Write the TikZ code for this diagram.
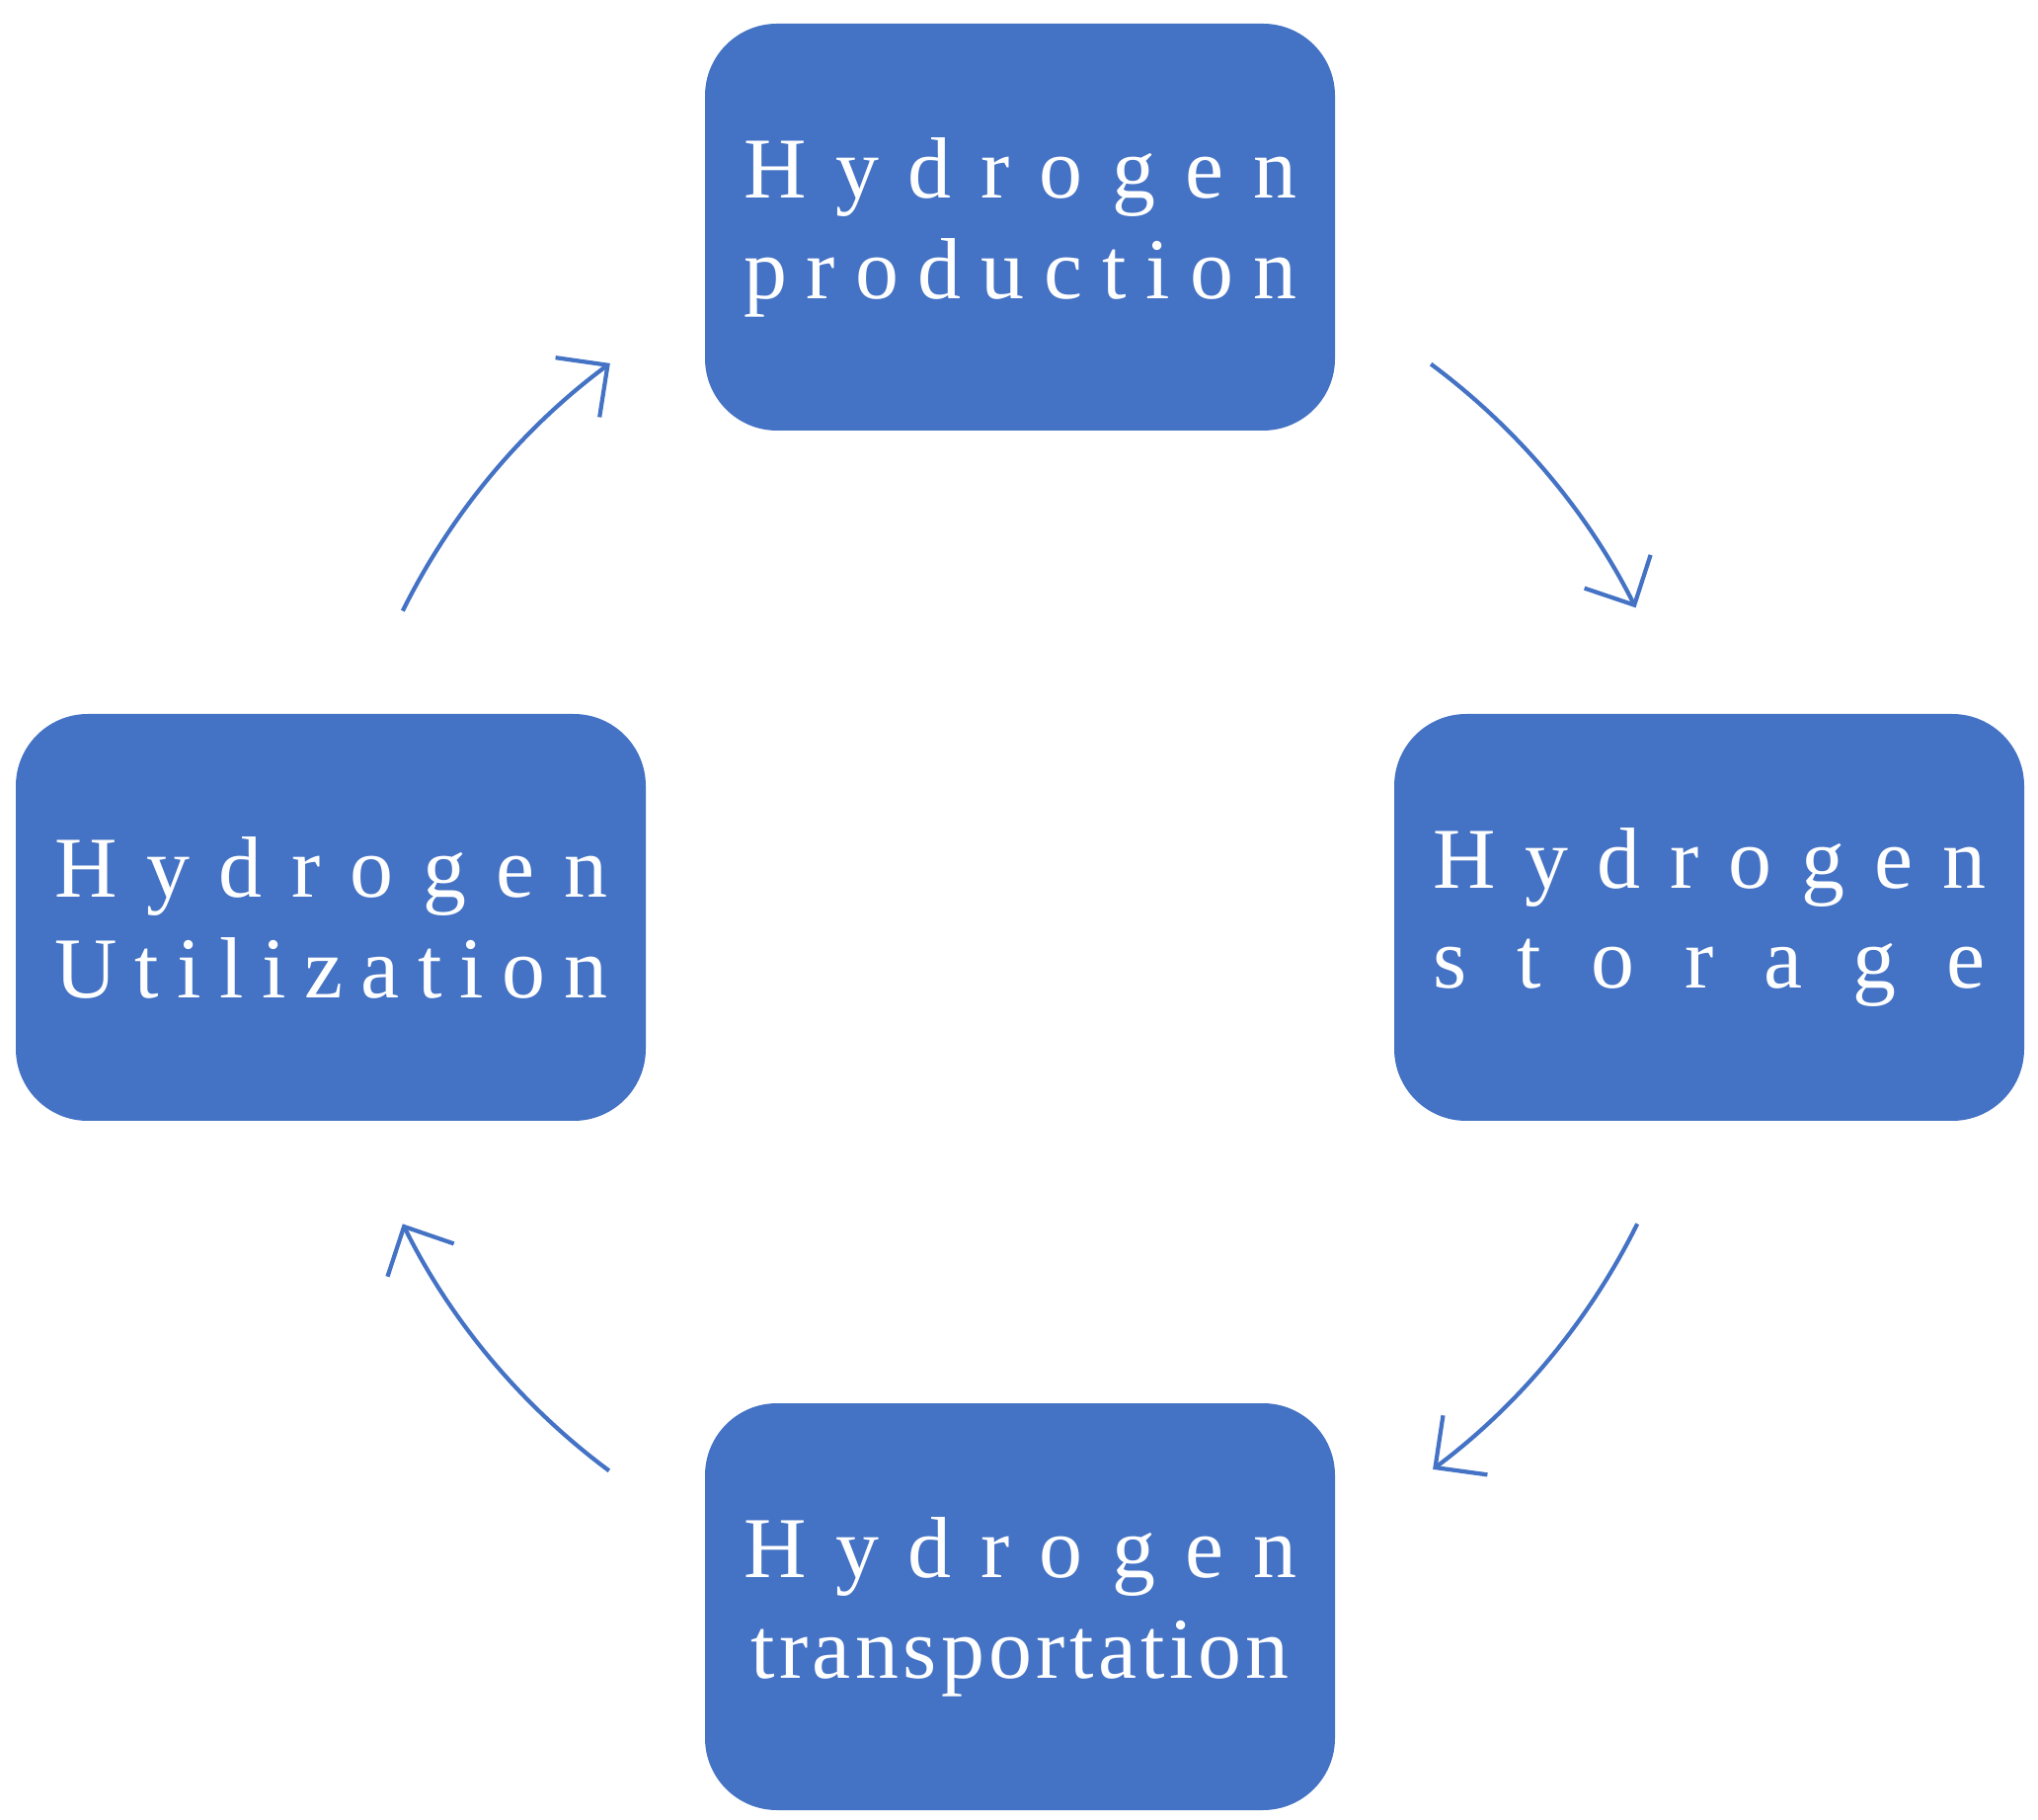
\documentclass[tikz,border=0pt]{standalone}
\usepackage{fontspec}
\setmainfont{Liberation Serif}
\usetikzlibrary{arrows.meta,positioning,calc}
\definecolor{stepblue}{HTML}{4472C4}
\newcommand{\spread}[1]{\makebox[5.6cm][s]{#1}}

\begin{document}
\begin{tikzpicture}
\tikzset{STEP/.style={fill=stepblue,rounded corners=0.73cm,minimum width=6.38cm,minimum height=4.12cm,text=white,font=\fontsize{25}{29}\selectfont,align=center}}
\tikzset{CYCLE/.style={draw=stepblue,line width=1.2pt,-{Straight Barb[length=3.8mm,width=7.5mm]}}}

\useasboundingbox (0,0) rectangle (20.64,-18.43);
\coordinate (centre) at (10.33,-9.29);

\node[STEP] (production) at (10.33,-2.30) {\spread{H\hfill y\hfill d\hfill r\hfill o\hfill g\hfill e\hfill n}\\\spread{p\hfill r\hfill o\hfill d\hfill u\hfill c\hfill t\hfill i\hfill o\hfill n}};
\node[STEP] (storage) at (17.31,-9.29) {\spread{H\hfill y\hfill d\hfill r\hfill o\hfill g\hfill e\hfill n}\\\spread{s\hfill t\hfill o\hfill r\hfill a\hfill g\hfill e}};
\node[STEP] (transport) at (10.33,-16.27) {\spread{H\hfill y\hfill d\hfill r\hfill o\hfill g\hfill e\hfill n}\\{\addfontfeature{LetterSpace=5}transportation}};
\node[STEP] (utilization) at (3.35,-9.29) {\spread{H\hfill y\hfill d\hfill r\hfill o\hfill g\hfill e\hfill n}\\\spread{U\hfill t\hfill i\hfill l\hfill i\hfill z\hfill a\hfill t\hfill i\hfill o\hfill n}};

\draw[CYCLE] ($(centre)+(53.4:6.98)$) arc (53.4:26.7:6.98);
\draw[CYCLE] ($(centre)+(-26.4:6.98)$) arc (-26.4:-53.2:6.98);
\draw[CYCLE] ($(centre)+(-126.6:6.98)$) arc (-126.6:-153.6:6.98);
\draw[CYCLE] ($(centre)+(153.6:6.98)$) arc (153.6:126.5:6.98);
\end{tikzpicture}
\end{document}
